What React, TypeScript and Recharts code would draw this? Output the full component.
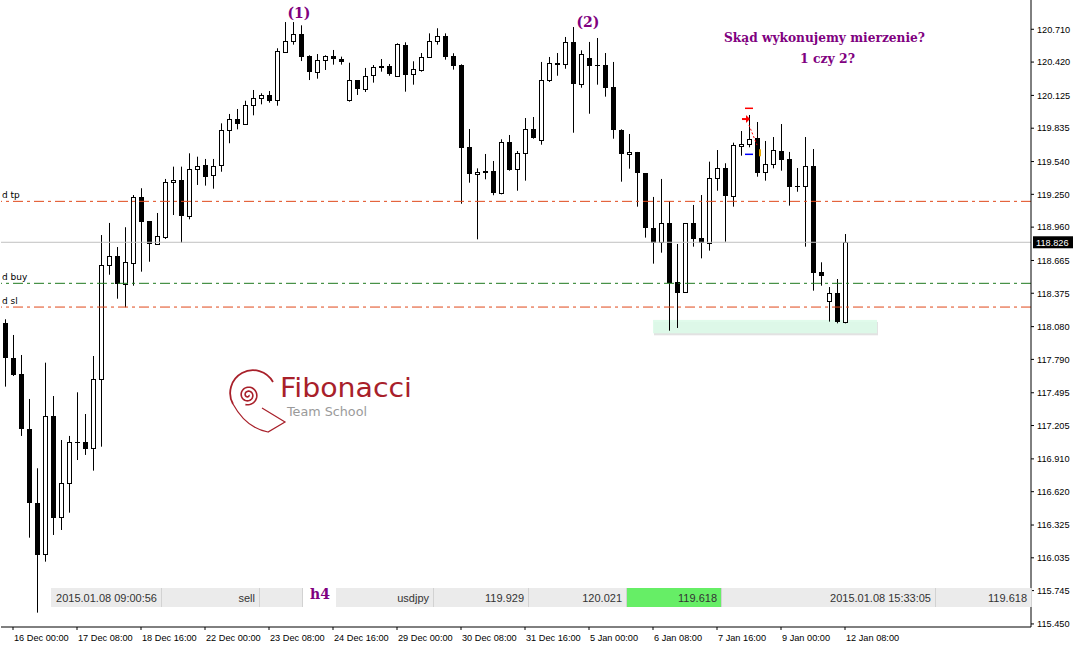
import React from 'react';
import { ComposedChart, Bar, XAxis, YAxis, ReferenceLine, ReferenceArea, ReferenceDot } from 'recharts';

// ---- data (USDJPY H4) ----
const OPEN = [118.109,117.800,117.661,117.174,116.520,116.066,117.287,116.393,116.694,117.057,117.057,117.004,117.614,118.622,118.702,118.460,118.640,119.224,119.014,118.814,118.875,119.357,119.374,119.061,119.472,119.507,119.419,119.510,119.819,119.916,119.875,120.038,120.100,120.126,120.085,120.512,120.604,120.668,120.471,120.335,120.436,120.471,120.447,120.085,120.259,120.184,120.303,120.383,120.383,120.299,120.568,120.312,120.353,120.462,120.604,120.651,120.471,120.394,119.669,119.427,119.457,119.457,119.259,119.710,119.472,119.613,119.825,119.728,120.259,120.412,120.400,120.595,120.223,120.453,120.391,120.391,120.197,119.817,119.604,119.625,119.436,118.950,118.826,118.994,118.472,118.389,118.994,118.864,118.822,119.392,119.480,119.238,119.675,119.693,119.746,119.445,119.516,119.631,119.560,119.321,119.321,119.498,118.563,118.309,118.377,118.118];
const HIGH = [118.145,118.006,117.829,117.440,116.827,117.761,117.466,117.077,117.113,117.499,117.307,117.820,118.890,118.997,118.784,118.959,119.244,119.304,119.014,119.085,119.386,119.495,119.495,119.613,119.583,119.563,119.563,119.878,119.961,120.005,120.078,120.173,120.144,120.164,120.542,120.774,120.774,120.745,120.480,120.491,120.480,120.527,120.468,120.414,120.261,120.368,120.394,120.447,120.403,120.586,120.595,120.427,120.500,120.674,120.719,120.674,120.498,120.400,119.828,119.480,119.607,119.545,119.737,119.775,119.633,119.925,119.934,120.421,120.465,120.500,120.642,120.730,120.524,120.598,120.633,120.500,120.421,119.825,119.784,119.625,119.436,119.227,119.386,119.191,118.811,118.994,119.156,119.244,119.539,119.642,119.525,119.707,119.810,119.952,119.890,119.722,119.757,119.872,119.625,119.483,119.757,119.651,118.649,118.430,118.501,118.899];
const LOW = [117.549,117.643,117.113,116.213,115.550,116.001,116.237,116.281,116.434,116.900,116.945,116.806,117.018,118.539,118.327,118.251,118.442,118.566,118.654,118.805,118.855,119.067,118.822,119.029,119.333,119.327,119.300,119.450,119.702,119.825,119.870,119.949,120.046,120.061,120.034,120.503,120.574,120.429,120.261,120.273,120.350,120.397,120.397,120.070,120.129,120.155,120.238,120.335,120.299,120.296,120.158,120.220,120.335,120.462,120.574,120.441,120.353,119.167,119.353,118.852,119.383,119.242,119.250,119.459,119.282,119.371,119.742,119.689,120.244,120.299,120.361,119.795,120.193,119.963,120.220,120.114,119.742,119.362,119.477,119.141,118.867,118.637,118.734,118.044,118.068,118.380,118.787,118.684,118.752,119.282,118.831,119.141,119.592,119.666,119.406,119.371,119.480,119.459,119.150,119.273,118.787,118.398,118.442,118.124,118.109,118.109];
const CLOSE = [117.800,117.652,117.172,116.517,116.060,117.287,116.390,116.694,117.057,117.057,117.000,117.614,118.622,118.702,118.460,118.649,119.224,119.008,118.814,118.879,119.357,119.374,119.061,119.472,119.498,119.406,119.498,119.819,119.916,119.875,120.038,120.100,120.126,120.078,120.515,120.604,120.668,120.468,120.335,120.436,120.471,120.450,120.418,120.259,120.184,120.294,120.374,120.370,120.317,120.577,120.308,120.356,120.462,120.604,120.651,120.468,120.388,119.663,119.427,119.448,119.441,119.259,119.710,119.465,119.613,119.825,119.751,120.259,120.412,120.397,120.595,120.223,120.489,120.388,120.391,120.193,119.817,119.604,119.625,119.436,118.950,118.822,118.994,118.469,118.375,118.994,118.858,118.822,119.392,119.480,119.238,119.684,119.695,119.740,119.441,119.516,119.640,119.557,119.318,119.321,119.498,118.557,118.530,118.377,118.118,118.826];
const FUTURE_SLOTS = 22;

const TICK_INDEX = [1, 9, 17, 25, 33, 41, 49, 57, 65, 73, 81, 89, 97, 105];
const TICK_LABELS = ['16 Dec 00:00', '17 Dec 08:00', '18 Dec 16:00', '22 Dec 00:00', '23 Dec 08:00', '24 Dec 16:00', '29 Dec 00:00', '30 Dec 08:00', '31 Dec 16:00', '5 Jan 00:00', '6 Jan 08:00', '7 Jan 16:00', '9 Jan 00:00', '12 Jan 08:00'];
const PRICE_TICKS = [120.710, 120.420, 120.125, 119.835, 119.540, 119.250, 118.960, 118.665, 118.375, 118.080, 117.790, 117.495, 117.205, 116.910, 116.620, 116.325, 116.035, 115.745, 115.450];
const Y_DOMAIN = [115.423, 120.969];

const LEVEL_TP = 119.188;
const LEVEL_BUY = 118.463;
const LEVEL_SL = 118.253;
const LEVEL_BID = 118.826;
const ZONE = { x1: 81, x2: 109, y1: 118.021, y2: 118.139 };
const MARK_RED = 120.011;
const MARK_ARROW = 119.916;
const MARK_BLUE = 119.604;
const MARK_ORANGE = 119.622;
const MARK_DOT_FROM = 119.863;
const MARK_DOT_TO = 119.686;

const INFO_CELLS = [
  { x: 51, w: 110, text: '2015.01.08 09:00:56', bg: '#ebebeb' },
  { x: 162, w: 97, text: 'sell', bg: '#ebebeb' },
  { x: 260, w: 42, text: '', bg: '#ebebeb' },
  { x: 336, w: 97, text: 'usdjpy', bg: '#ebebeb' },
  { x: 434, w: 94, text: '119.929', bg: '#ebebeb' },
  { x: 529, w: 97, text: '120.021', bg: '#ebebeb' },
  { x: 627, w: 94, text: '119.618', bg: '#66ee66' },
  { x: 722, w: 213, text: '2015.01.08 15:33:05', bg: '#ebebeb' },
  { x: 936, w: 95, text: '119.618', bg: '#ebebeb' },
];

const ORANGE = '#e0481a';
const GREEN = '#1f7a1f';
const PURPLE = '#800080';
const AXIS_FONT = 'Liberation Sans, Arial, sans-serif';
const LEVEL_DASH = '10 4 3 4';

const Candle = (props: any) => {
  const { x, y, width, height, payload } = props;
  if (!payload || payload.o == null) return null;
  const { o, h, l, c } = payload;
  const top = Math.min(y, y + height);
  const hgt = Math.abs(height);
  const py = (p: number) => (h === l ? top : top + ((h - p) / (h - l)) * hgt);
  const cx = Math.floor(x + width / 2) + 0.5;
  const yO = py(o);
  const yC = py(c);
  const bTop = Math.round(Math.min(yO, yC));
  const bBot = Math.round(Math.max(yO, yC));
  const wick = <line x1={cx} x2={cx} y1={py(h)} y2={py(l)} stroke="#000" strokeWidth={1} />;
  if (bBot - bTop < 1) {
    return (
      <g>
        {wick}
        <line x1={cx - 2.5} x2={cx + 2.5} y1={bTop + 0.5} y2={bTop + 0.5} stroke="#000" strokeWidth={1} />
      </g>
    );
  }
  if (c >= o) {
    return (
      <g>
        {wick}
        <rect x={cx - 2} y={bTop + 0.5} width={4} height={bBot - bTop} fill="#fff" stroke="#000" strokeWidth={1} />
      </g>
    );
  }
  return (
    <g>
      {wick}
      <rect x={cx - 2.5} y={bTop} width={5} height={Math.max(bBot - bTop, 1)} fill="#000" />
    </g>
  );
};

const TimeTick = (props: any) => {
  const { x, y, payload } = props;
  const idx = TICK_INDEX.indexOf(payload.value);
  if (idx < 0) return null;
  return (
    <text x={x + 1} y={y + 8.5} textAnchor="start" fontSize={9.2} fontFamily={AXIS_FONT} fill="#000">
      {TICK_LABELS[idx]}
    </text>
  );
};

const leftLabel = (text: string) => (props: any) => {
  const vb = props.viewBox || {};
  return (
    <text x={(vb.x || 0) + 1} y={(vb.y || 0) - 3} fontSize={9} fontFamily="DejaVu Sans, sans-serif" fill="#000">
      {text}
    </text>
  );
};

const bidLabel = (props: any) => {
  const vb = props.viewBox || {};
  const x0 = (vb.x || 0) + (vb.width || 0) + 2;
  const y0 = vb.y || 0;
  return (
    <g>
      <rect x={x0} y={y0 - 6} width={40} height={12} fill="#000" />
      <text x={x0 + 3} y={y0 + 3.5} fontSize={9.2} fontFamily={AXIS_FONT} fill="#fff">
        {LEVEL_BID.toFixed(3)}
      </text>
    </g>
  );
};

// zone spans from the centre of its first bar to the centre of its last bar
const zoneShape = (props: any) => {
  const { x, y, width, height } = props;
  const x0 = x + 4;
  const w = width - 8;
  return (
    <g>
      <rect x={x0 + 1} y={y + 2} width={w} height={height} fill="#cfcfcf" opacity={0.6} />
      <rect x={x0} y={y} width={w} height={height} fill="#dcfbe8" fillOpacity={0.88} />
    </g>
  );
};

function spiralPoints() {
  const pts: string[] = [];
  for (let t = 0; t <= 4.6 * Math.PI; t += 0.15) {
    const r = 0.8 + (2.0 * t) / Math.PI;
    pts.push(`${(248 + r * Math.cos(t)).toFixed(2)},${(395 + r * Math.sin(t)).toFixed(2)}`);
  }
  return pts.join(' ');
}

export default function App() {
  const data: any[] = OPEN.map((o, i) => ({ i, o, h: HIGH[i], l: LOW[i], c: CLOSE[i] }));
  for (let j = 0; j < FUTURE_SLOTS; j++) {
    data.push({ i: OPEN.length + j, o: null, h: null, l: null, c: null });
  }
  return (
    <div style={{ position: 'absolute', left: 0, top: 0, width: 1075, height: 646, background: '#fff', overflow: 'hidden' }}>
      <ComposedChart width={1075} height={646} data={data} margin={{ top: 0, right: 0, bottom: 0, left: 1 }}>
        <XAxis
          dataKey="i"
          type="category"
          height={19}
          padding={{ left: 0, right: 6 }}
          ticks={TICK_INDEX}
          interval={0}
          tick={<TimeTick />}
          tickSize={3}
          tickLine={{ stroke: '#000' }}
          axisLine={{ stroke: '#000' }}
        />
        <YAxis
          orientation="right"
          width={44}
          type="number"
          domain={Y_DOMAIN}
          allowDataOverflow
          ticks={PRICE_TICKS}
          interval={0}
          tickSize={3}
          tickMargin={3}
          tickFormatter={(v: number) => v.toFixed(3)}
          tick={{ fontSize: 9.2, fill: '#000', fontFamily: AXIS_FONT }}
          tickLine={{ stroke: '#000' }}
          axisLine={{ stroke: '#000' }}
        />
        <ReferenceLine y={LEVEL_BID} stroke="#c0c0c0" strokeWidth={1} label={bidLabel} />
        <ReferenceLine y={LEVEL_TP} stroke={ORANGE} strokeDasharray={LEVEL_DASH} label={leftLabel('d tp')} />
        <ReferenceLine y={LEVEL_BUY} stroke={GREEN} strokeDasharray={LEVEL_DASH} label={leftLabel('d buy')} />
        <ReferenceLine y={LEVEL_SL} stroke={ORANGE} strokeDasharray={LEVEL_DASH} label={leftLabel('d sl')} />
        <Bar dataKey={(d: any) => (d.o == null ? null : [d.l, d.h])} barSize={5} shape={Candle} isAnimationActive={false} />
        <ReferenceArea x1={ZONE.x1} x2={ZONE.x2} y1={ZONE.y1} y2={ZONE.y2} shape={zoneShape} />
        <ReferenceLine
          segment={[{ x: 93, y: MARK_DOT_FROM }, { x: 94, y: MARK_DOT_TO }]}
          stroke="#ff0000"
          strokeDasharray="2 2"
        />
        <ReferenceDot
          x={93}
          y={MARK_RED}
          shape={(p: any) => <line x1={p.cx - 4} x2={p.cx + 4} y1={p.cy} y2={p.cy} stroke="#ff0000" strokeWidth={1.5} />}
        />
        <ReferenceDot
          x={93}
          y={MARK_ARROW}
          shape={(p: any) => (
            <g>
              <line x1={p.cx - 7} x2={p.cx - 2} y1={p.cy} y2={p.cy} stroke="#ff0000" strokeWidth={2} />
              <polygon points={`${p.cx - 3},${p.cy - 4} ${p.cx + 1},${p.cy} ${p.cx - 3},${p.cy + 4}`} fill="#ff0000" />
            </g>
          )}
        />
        <ReferenceDot
          x={93}
          y={MARK_BLUE}
          shape={(p: any) => <line x1={p.cx - 4} x2={p.cx + 4} y1={p.cy} y2={p.cy} stroke="#0000ff" strokeWidth={1.5} />}
        />
        <ReferenceDot
          x={94}
          y={MARK_ORANGE}
          shape={(p: any) => <rect x={p.cx + 2} y={p.cy - 3} width={2} height={7} fill="#e8a800" />}
        />
      </ComposedChart>

      <svg width={1075} height={646} style={{ position: 'absolute', left: 0, top: 0, pointerEvents: 'none' }}>
        {/* annotations */}
        <text x={299} y={18} textAnchor="middle" fontSize={14} fontFamily="DejaVu Serif, serif" fontWeight="bold" fill={PURPLE}>(1)</text>
        <text x={588} y={27} textAnchor="middle" fontSize={14} fontFamily="DejaVu Serif, serif" fontWeight="bold" fill={PURPLE}>(2)</text>
        <text x={724} y={42} fontSize={12} fontFamily="DejaVu Serif, serif" fontWeight="bold" fill={PURPLE} textLength={201} lengthAdjust="spacingAndGlyphs">Skąd wykonujemy mierzenie?</text>
        <text x={800} y={63} fontSize={12} fontFamily="DejaVu Serif, serif" fontWeight="bold" fill={PURPLE} textLength={55} lengthAdjust="spacingAndGlyphs">1 czy 2?</text>

        {/* logo */}
        <polyline points={spiralPoints()} fill="none" stroke="#a8202a" strokeWidth={1.6} />
        <path d="M 233 404 A 21 21 0 1 1 273 382" fill="none" stroke="#a8202a" strokeWidth={1.8} />
        <path d="M 262 408 L 285 422 L 268 432 Q 246 428 233 404" fill="none" stroke="#a8202a" strokeWidth={1.2} />
        <text x={280} y={397} fontSize={26} fontFamily="DejaVu Sans, sans-serif" fill="#a8202a" textLength={132} lengthAdjust="spacingAndGlyphs">Fibonacci</text>
        <text x={287} y={416} fontSize={12.5} fontFamily="DejaVu Sans, sans-serif" fill="#9a9a9a" textLength={80} lengthAdjust="spacingAndGlyphs">Team School</text>

        {/* info bar */}
        {INFO_CELLS.map((cell, k) => (
          <g key={k}>
            <rect x={cell.x} y={588} width={cell.w} height={19} fill={cell.bg} />
            <line x1={cell.x + cell.w + 0.5} x2={cell.x + cell.w + 0.5} y1={588} y2={607} stroke="#d2d2d2" />
            {cell.text ? (
              <text x={cell.x + cell.w - 4} y={601.5} textAnchor="end" fontSize={11} fontFamily={AXIS_FONT} fill="#333">
                {cell.text}
              </text>
            ) : null}
          </g>
        ))}
        <text x={310} y={599} fontSize={14} fontFamily="DejaVu Serif, serif" fontWeight="bold" fill={PURPLE}>h4</text>
      </svg>
    </div>
  );
}
